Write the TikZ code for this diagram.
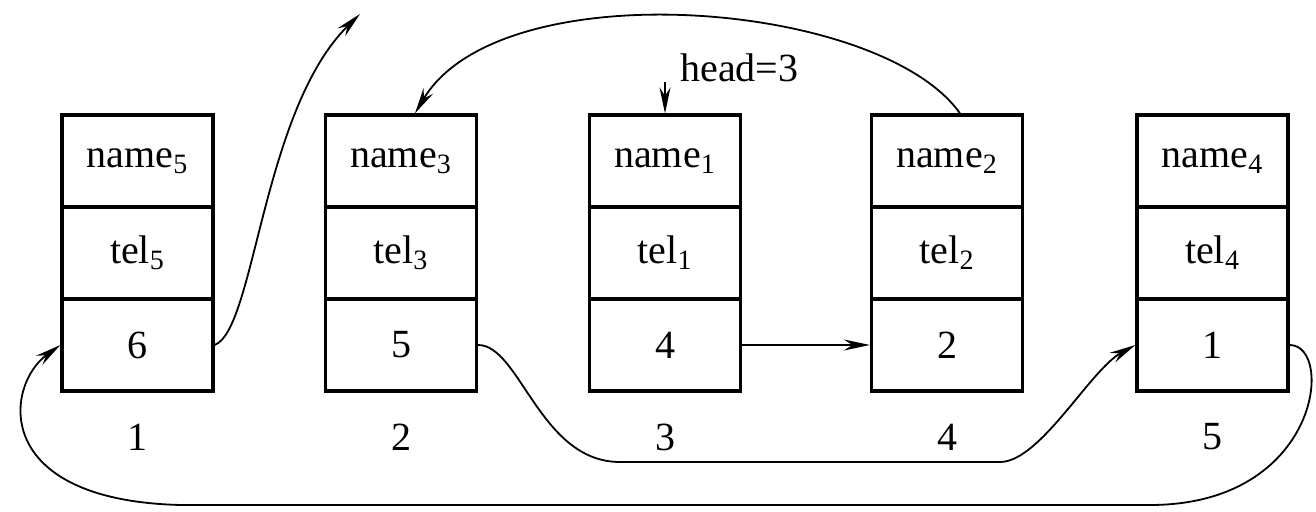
\documentclass[tikz,border=0pt]{standalone}
\usepackage{fontspec}
\setmainfont{Liberation Serif}
\usetikzlibrary{arrows.meta}
\begin{document}
\begin{tikzpicture}[x=0.5pt,y=-0.5pt,
  cell/.style={draw,line width=1.6pt,minimum width=75.5pt,minimum height=46pt,inner sep=0pt,font=\fontsize{20}{24}\selectfont},
  idx/.style={font=\fontsize{20}{24}\selectfont},
  arr/.style={line width=0.9pt,-{Stealth[length=13pt,width=5.5pt]}},
  link/.style={line width=0.9pt}]
\useasboundingbox (0,0) rectangle (1316,512);
% boxes
\foreach \i/\x/\n/\p in {1/137.5/5/6, 2/401/3/5, 3/665/1/4, 4/947/2/2, 5/1212.5/4/1}{
  \node[cell] (b\i n) at (\x,161) {name\textsubscript{\n}};
  \node[cell] (b\i t) at (\x,253) {tel\textsubscript{\n}};
  \node[cell] (b\i p) at (\x,345) {\p};
  \node[idx] (l\i) at (\x,437) {\i};
}
% head
\coordinate (hs) at (665,82);
\draw[arr] (hs) -- (b3n.north);
\node[idx,anchor=west,inner sep=0pt] (hl) at (680,68) {head=3};
% free end arrow from box 1
\coordinate (up) at (360,14);
\draw[arr] (b1p.east) .. controls (255,330) and (262,110) .. (up);
% box 4 top to box 2 top
\draw[arr] ([xshift=6.5pt]b4n.north) .. controls (880,0) and (500,-30) .. ([xshift=7pt]b2n.north);
% 3 -> 4
\draw[arr] (b3p.east) -- (b4p.west);
% 2 -> 5
\draw[arr] (b2p.east) .. controls (520,345) and (540,462) .. (620,462) -- (1000,462) .. controls (1040,462) and (1090,370) .. (b5p.west);
% 5 -> 1
\draw[arr] (b5p.east) .. controls (1335,345) and (1320,505) .. (1150,505) -- (180,505) .. controls (-10,500) and (5,385) .. (b1p.west);
\end{tikzpicture}
\end{document}
